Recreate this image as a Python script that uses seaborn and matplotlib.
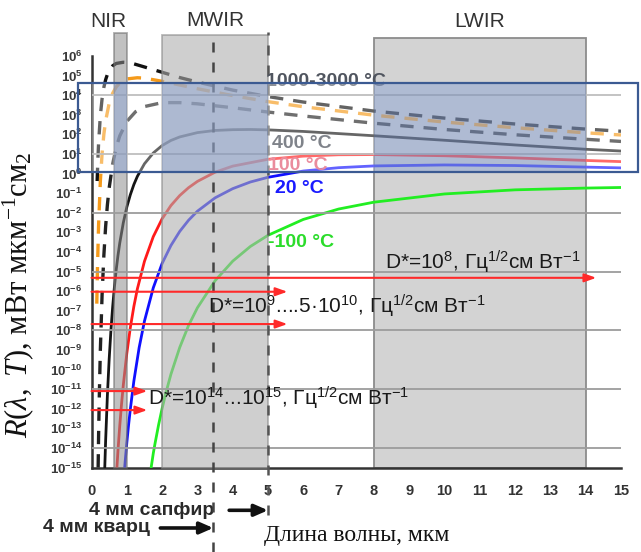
import numpy as np
import pandas as pd
import matplotlib
matplotlib.use("Agg")
import matplotlib.pyplot as plt
import matplotlib.transforms as mtransforms
from matplotlib.patches import Rectangle
from matplotlib.ticker import LogLocator, MultipleLocator, FuncFormatter, NullFormatter
import seaborn as sns

# ---------------- data (log10 R, mW um^-1 cm^-2) ----------------
lam_m100 = [1.69, 1.75, 1.8, 1.9, 2.0, 2.1, 2.25, 2.5, 2.75, 3.0, 3.5, 4.0, 4.5, 5.0, 6.0, 7.0, 8.0, 10.0, 12.0, 14.0, 15.0]
lgR_m100 = [-15.0, -14.28, -13.77, -12.83, -11.99, -11.24, -10.24, -8.87, -7.75, -6.85, -5.47, -4.47, -3.72, -3.15, -2.34, -1.81, -1.46, -1.04, -0.83, -0.74, -0.71]

lam_20 = [0.94, 0.95, 1.0, 1.05, 1.1, 1.2, 1.35, 1.5, 1.75, 2.0, 2.25, 2.5, 2.75, 3.0, 3.5, 4.0, 4.5, 5.0, 6.0, 7.0, 8.0, 10.0, 12.0, 14.0, 15.0]
lgR_20 = [-15.0, -14.77, -13.75, -12.84, -12.02, -10.59, -8.88, -7.53, -5.83, -4.59, -3.67, -2.95, -2.38, -1.92, -1.24, -0.77, -0.43, -0.19, 0.13, 0.30, 0.39, 0.44, 0.41, 0.33, 0.29]

lam_100 = [0.72, 0.75, 0.8, 0.85, 0.9, 1.0, 1.1, 1.2, 1.3, 1.5, 1.75, 2.0, 2.25, 2.5, 2.75, 3.0, 3.5, 4.0, 5.0, 6.0, 7.0, 8.0, 10.0, 12.0, 14.0, 15.0]
lgR_100 = [-15.0, -14.14, -12.88, -11.78, -10.81, -9.18, -7.86, -6.78, -5.88, -4.48, -3.22, -2.31, -1.63, -1.12, -0.72, -0.40, 0.07, 0.38, 0.73, 0.89, 0.96, 0.97, 0.91, 0.80, 0.67, 0.61]

lam_400 = [0.376, 0.4, 0.45, 0.5, 0.55, 0.6, 0.65, 0.7, 0.75, 0.8, 0.9, 1.0, 1.1, 1.2, 1.3, 1.5, 1.75, 2.0, 2.25, 2.5, 3.0, 3.5, 4.0, 4.5, 5.0, 6.0, 7.0, 8.0, 10.0, 12.0, 14.0, 15.0]
lgR_400 = [-15.0, -13.65, -11.32, -9.49, -8.01, -6.79, -5.77, -4.91, -4.18, -3.55, -2.52, -1.71, -1.08, -0.56, -0.14, 0.50, 1.05, 1.43, 1.69, 1.87, 2.09, 2.20, 2.24, 2.25, 2.23, 2.15, 2.04, 1.93, 1.70, 1.46, 1.24, 1.15]

lam_1000 = [0.188, 0.2, 0.22, 0.25, 0.3, 0.35, 0.4, 0.45, 0.5, 0.6, 0.7, 0.8, 1.0, 1.25, 1.5, 2.0, 2.5, 3.0, 4.0, 5.0, 6.0, 8.0, 10.0, 12.0, 14.0, 15.0]
lgR_1000 = [-15.0, -13.47, -11.45, -9.05, -6.18, -4.18, -2.71, -1.60, -0.74, 0.50, 1.33, 1.92, 2.66, 3.16, 3.42, 3.62, 3.62, 3.56, 3.36, 3.14, 2.94, 2.57, 2.25, 1.98, 1.75, 1.64]

lam_2000 = [0.15, 0.17, 0.2, 0.25, 0.3, 0.35, 0.4, 0.5, 0.6, 0.7, 0.8, 1.0, 1.3, 1.5, 2.0, 2.5, 3.0, 4.0, 5.0, 6.0, 8.0, 10.0, 12.0, 14.0, 15.0]
lgR_2000 = [-6.64, -4.75, -2.68, -0.42, 1.02, 2.00, 2.69, 3.58, 4.10, 4.42, 4.62, 4.83, 4.89, 4.87, 4.71, 4.52, 4.33, 3.98, 3.67, 3.41, 2.98, 2.63, 2.34, 2.08, 1.97]

lam_3000 = [0.16, 0.18, 0.2, 0.25, 0.3, 0.35, 0.4, 0.45, 0.5, 0.6, 0.7, 0.9, 1.0, 1.2, 1.5, 2.0, 2.5, 3.0, 4.0, 5.0, 6.0, 8.0, 10.0, 12.0, 14.0, 15.0]
lgR_3000 = [-0.38, 0.69, 1.52, 2.95, 3.82, 4.40, 4.79, 5.06, 5.26, 5.50, 5.62, 5.68, 5.67, 5.60, 5.44, 5.17, 4.90, 4.67, 4.26, 3.93, 3.65, 3.19, 2.83, 2.53, 2.27, 2.16]

# spectral bands
band_names = ["NIR", "MWIR", "LWIR"]
band_lo = [0.65, 2.0, 8.0]
band_hi = [1.0, 5.0, 14.0]

# detector thresholds (red arrows)
det_lgR = [-5.32, -6.03, -7.68, -11.1, -12.07]
det_end = [14.3, 5.55, 5.55, 1.58, 1.58]
det_text = ["D*=$10^{8}$, Гц$^{1/2}$см Вт$^{-1}$",
            "D*=$10^{9}$....5·$10^{10}$, Гц$^{1/2}$см Вт$^{-1}$",
            "D*=$10^{14}$...$10^{15}$, Гц$^{1/2}$см Вт$^{-1}$"]
det_text_x = [8.31, 3.3, 1.6]
det_text_lg = [-4.52, -6.76, -11.45]

# window cut-offs
win_names = ["4 мм сапфир", "4 мм кварц"]
win_cut = [5.0, 3.45]

# temperature labels
temp_labels = ["1000-3000 °C", "400 °C", "100 °C", "20 °C", "-100 °C"]
temp_x = [4.94, 5.11, 5.0, 5.2, 5.0]
temp_lg = [4.72, 1.53, 0.43, -0.77, -3.52]
temp_col = ["#50555f", "#3c414c", "#e0506a", "#1a1aff", "#2bdc2b"]

# ---------------- style ----------------
sns.set_style("white")
plt.rcParams["font.family"] = ["Liberation Sans", "DejaVu Sans"]
plt.rcParams["mathtext.default"] = "regular"
plt.rcParams["mathtext.fontset"] = "custom"
plt.rcParams["mathtext.rm"] = "Liberation Serif"
plt.rcParams["mathtext.it"] = "Liberation Serif:italic"
plt.rcParams["mathtext.bf"] = "Liberation Serif:bold"

W, H = 641, 552
fig = plt.figure(figsize=(W / 100, H / 100), dpi=100)
L, R, B, T = 91.5, 621, 467.5, 56
ax = fig.add_axes([L / W, 1 - B / H, (R - L) / W, (B - T) / H])
ax.set_yscale("log")
ax.set_xlim(0, 15)
ax.set_ylim(1e-15, 1e6)

# ---------------- curves ----------------
curves = [
    (lam_m100, lgR_m100, "#22ee22", None),
    (lam_20, lgR_20, "#1010ff", None),
    (lam_100, lgR_100, "#ff1a1a", None),
    (lam_400, lgR_400, "#151515", None),
    (lam_1000, lgR_1000, "#222222", (4, 3)),
    (lam_2000, lgR_2000, "#f59a1a", (4, 3)),
    (lam_3000, lgR_3000, "#111111", (4, 3)),
]
for xs, lg, col, dash in curves:
    df = pd.DataFrame({"lam": xs, "R": 10.0 ** np.array(lg)})
    sns.lineplot(data=df, x="lam", y="R", ax=ax, color=col,
                 lw=2.4 if dash else 2.0, sort=False, estimator=None, zorder=3)
    ln = ax.lines[-1]
    if dash:
        ln.set_dashes(dash)
        ln.set_solid_capstyle("butt")

# ---------------- bands ----------------
band_style = {
    "NIR": dict(facecolor="#8f8f8f", alpha=0.55, edgecolor="#6a6a6a", zorder=4, top=1.056),
    "MWIR": dict(facecolor="#b0b0b0", alpha=0.6, edgecolor="#8a8a8a", zorder=4, top=1.051),
    "LWIR": dict(facecolor="#d3d3d3", alpha=1.0, edgecolor="#8c8c8c", zorder=1, top=1.044),
}
lbl_y = {"NIR": 1.083, "MWIR": 1.087, "LWIR": 1.083}
for name, lo, hi in zip(band_names, band_lo, band_hi):
    st = band_style[name]
    ax.axvspan(lo, hi, ymin=0, ymax=st["top"], facecolor=st["facecolor"], alpha=st["alpha"],
               edgecolor=st["edgecolor"], lw=1.3, zorder=st["zorder"], clip_on=False)
    ax.text((lo + hi) / 2 - (0.35 if name == "NIR" else 0), lbl_y[name], name,
            transform=mtransforms.blended_transform_factory(ax.transData, ax.transAxes),
            ha="center", va="center", fontsize=15, color="#333333", clip_on=False)

# gridlines
for v in ax.yaxis.get_major_locator().tick_values(1e-14, 1e5):
    if 1e-14 * 0.99 <= v <= 1e5 * 1.01:
        ax.axhline(v, color="#9c9c9c", lw=1.3, zorder=4.5)

# vertical dashed cut-off lines
ax.axvline(win_cut[1], ymin=-0.205, ymax=1.051, color="#444444", lw=1.8,
           ls=(0, (4, 4)), zorder=5, clip_on=False)
ax.axvline(win_cut[0], ymin=-0.115, ymax=1.058, color="#555555", lw=1.8,
           ls=(0, (4, 4)), zorder=5, clip_on=False)

# window arrows and labels
bt = mtransforms.blended_transform_factory(ax.transData, ax.transAxes)
win_y = [-0.104, -0.147]
win_txt_x = [1.71, 0.15]
win_arrow_start = [3.9, 1.95]
for name, cut, yy, tx, xs in zip(win_names, win_cut, win_y, win_txt_x, win_arrow_start):
    ax.annotate("", xy=(cut, yy), xytext=(xs, yy), xycoords=bt, textcoords=bt,
                arrowprops=dict(arrowstyle="-|>,head_length=0.8,head_width=0.35", lw=2.6,
                                color="#111111", shrinkA=0, shrinkB=0),
                annotation_clip=False)
    ax.text(tx, yy, name, transform=bt, ha="center", va="center", fontsize=14,
            fontweight="bold", color="#2a2a2a", clip_on=False)

# detector arrows
for lg, xe in zip(det_lgR, det_end):
    ax.annotate("", xy=(xe, 10 ** lg), xytext=(0, 10 ** lg),
                arrowprops=dict(arrowstyle="-|>,head_length=0.7,head_width=0.25", lw=1.5,
                                color="#ff2a2a", shrinkA=0, shrinkB=0),
                zorder=6, annotation_clip=False)
for txt, tx, lg in zip(det_text, det_text_x, det_text_lg):
    ax.text(tx, 10 ** lg, txt, fontsize=15, color="#1a1a1a", va="center", ha="left", zorder=7)

# temperature labels
for txt, tx, lg, col in zip(temp_labels, temp_x, temp_lg, temp_col):
    ax.text(tx, 10 ** lg, txt, fontsize=14, fontweight="bold", color=col,
            va="center", ha="left", zorder=7)

# highlight rectangle (figure pixel geometry)
rx0, rx1, ry0, ry1 = 78 / W, 638 / W, 1 - 172 / H, 1 - 83 / H
ax.add_patch(Rectangle((L / W, ry0), rx1 - L / W, ry1 - ry0, transform=fig.transFigure,
                       facecolor="white", alpha=0.35, lw=0, zorder=8, clip_on=False))
bf = mtransforms.blended_transform_factory(ax.transData, fig.transFigure)
for lo, hi in zip(band_lo, band_hi):
    ax.add_patch(Rectangle((lo, ry0), hi - lo, ry1 - ry0, transform=bf,
                           facecolor="#5173b8", alpha=0.35, lw=0, zorder=8.5, clip_on=False))
ax.add_patch(Rectangle((rx0, ry0), rx1 - rx0, ry1 - ry0, transform=fig.transFigure,
                       fill=False, edgecolor="#3b5a92", lw=1.6, zorder=9, clip_on=False))

# ---------------- axes ----------------
ax.set_xticks(range(0, 16))
ax.xaxis.set_minor_locator(MultipleLocator(0.5))
ax.yaxis.set_major_locator(LogLocator(base=10, numticks=40))
ax.yaxis.set_minor_locator(LogLocator(base=10, subs=np.arange(2, 10), numticks=40))
ax.yaxis.set_minor_formatter(NullFormatter())
ax.yaxis.set_major_formatter(FuncFormatter(lambda v, p: "$10^{%d}$" % int(round(np.log10(v)))))
ax.tick_params(axis="x", which="major", direction="in", length=6, width=1.5,
               labelsize=10.5, labelcolor="#333333", pad=12, color="#333333")
ax.tick_params(axis="x", which="minor", direction="in", length=3, width=1.0, color="#333333")
ax.tick_params(axis="y", which="major", direction="out", length=5, width=1.5,
               labelsize=9.5, labelcolor="#3a3a3a", pad=1.5, color="#333333")
ax.tick_params(axis="y", which="minor", direction="in", length=3, width=0.7, color="#333333")
for lbl in ax.get_xticklabels() + ax.get_yticklabels():
    lbl.set_fontweight("bold")
for s in ["top", "right"]:
    ax.spines[s].set_visible(False)
for s in ["left", "bottom"]:
    ax.spines[s].set_color("#333333")
    ax.spines[s].set_linewidth(1.8)
ax.grid(False)

ax.set_xlabel("Длина волны, мкм", fontsize=17, family="Liberation Serif", color="#111111")
ax.xaxis.set_label_coords(0.5, -0.14)
ax.set_ylabel(r"$\mathit{R}(\mathit{λ},\ \mathit{T})$, мВт мкм$^{-1}$см$_{2}$",
              fontsize=22, family="Liberation Serif", color="#111111")
ax.yaxis.set_label_coords(-0.105, 0.42)

fig.savefig("out.png", dpi=100)
